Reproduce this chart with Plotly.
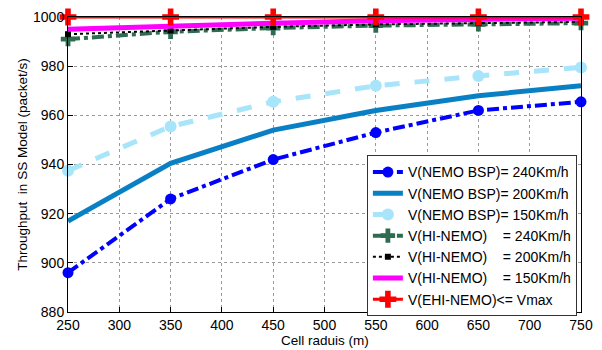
import plotly.graph_objects as go

radius = [250, 350, 450, 550, 650, 750]
bsp_240 = [896, 926, 942, 953, 962, 965.5]
bsp_200 = [917, 940.5, 954, 962, 968, 972]
bsp_150 = [937.5, 955.5, 965.5, 972, 976, 979.5]
hi_240 = [991, 994, 995.5, 996.5, 997, 997.5]
hi_200 = [993, 994.5, 996, 997, 997.5, 998]
hi_150 = [995, 996.5, 997.5, 998.5, 999, 999.5]
ehi = [1000, 1000, 1000, 1000, 1000, 1000]

names = [
    "V(NEMO BSP)= 240Km/h",
    "V(NEMO BSP)= 200Km/h",
    "V(NEMO BSP)= 150Km/h",
    "V(HI-NEMO)\u00a0\u00a0\u00a0\u00a0= 240Km/h",
    "V(HI-NEMO)\u00a0\u00a0\u00a0\u00a0= 200Km/h",
    "V(HI-NEMO)\u00a0\u00a0\u00a0\u00a0= 150Km/h",
    "V(EHI-NEMO)<= Vmax",
]

fig = go.Figure()
fig.add_trace(go.Scatter(x=radius, y=bsp_240, name=names[0], mode="lines+markers",
                         line=dict(color="#0000FF", width=4, dash="dashdot"),
                         marker=dict(symbol="circle", size=11, color="#0000FF")))
fig.add_trace(go.Scatter(x=radius, y=bsp_200, name=names[1], mode="lines",
                         line=dict(color="#0A80C4", width=5)))
fig.add_trace(go.Scatter(x=radius, y=bsp_150, name=names[2], mode="lines+markers",
                         line=dict(color="#A8E4FA", width=5, dash="dash"),
                         marker=dict(symbol="circle", size=12, color="#A8E4FA")))
fig.add_trace(go.Scatter(x=radius, y=hi_240, name=names[3], mode="lines+markers",
                         line=dict(color="#2F6B50", width=4, dash="dashdot"),
                         marker=dict(symbol="cross", size=12, color="#2F6B50")))
fig.add_trace(go.Scatter(x=radius, y=hi_200, name=names[4], mode="lines+markers",
                         line=dict(color="#000000", width=2, dash="dot"),
                         marker=dict(symbol="square", size=6, color="#000000")))
fig.add_trace(go.Scatter(x=radius, y=hi_150, name=names[5], mode="lines",
                         line=dict(color="#FF00FF", width=5)))
fig.add_trace(go.Scatter(x=radius, y=ehi, name=names[6], mode="lines+markers",
                         line=dict(color="#FF0000", width=3),
                         marker=dict(symbol="cross", size=14, color="#FF0000")))
fig.update_traces(cliponaxis=False)

axis_common = dict(showline=True, linecolor="black", linewidth=1, mirror=True,
                   ticks="inside", ticklen=5, tickcolor="black",
                   showgrid=True, gridcolor="#9a9a9a", griddash="dot", gridwidth=1,
                   zeroline=False,
                   tickfont=dict(family="Liberation Sans, Arial", size=14, color="black"))

fig.update_layout(
    width=602, height=350,
    margin=dict(l=68, r=21, t=17, b=38, autoexpand=False),
    plot_bgcolor="white", paper_bgcolor="white",
    font=dict(family="Liberation Sans, Arial", color="black", size=12),
    xaxis=dict(range=[250, 750], tickvals=[250, 300, 350, 400, 450, 500, 550, 600, 650, 700, 750],
               **axis_common),
    yaxis=dict(range=[880, 1000], tickvals=[880, 900, 920, 940, 960, 980, 1000],
               title=dict(text="Throughput  in SS Model (packet/s)", font=dict(size=13.5), standoff=2), **axis_common),
    legend=dict(x=0.992, y=-0.015, xanchor="right", yanchor="bottom",
                bgcolor="white", bordercolor="#333333", borderwidth=1,
                font=dict(size=14), tracegroupgap=0, itemwidth=30),
    showlegend=True,
    annotations=[dict(text="Cell raduis (m)", xref="paper", yref="paper", x=0.5, y=-0.098,
                      xanchor="center", yanchor="middle", showarrow=False,
                      font=dict(size=13.5, family="Liberation Sans, Arial", color="black"))],
)

fig.write_html("out.html", config={"displayModeBar": False},
               post_script="document.body.style.margin='0';document.body.style.padding='0';document.body.style.overflow='hidden';")
